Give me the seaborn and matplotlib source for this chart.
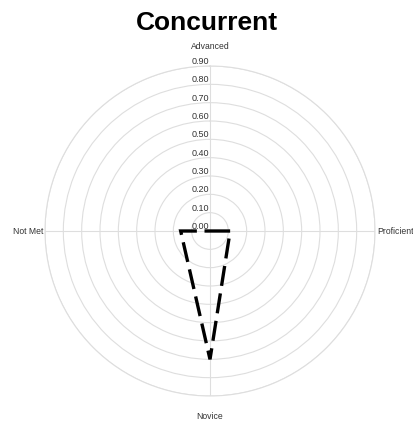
import numpy as np
import pandas as pd
import matplotlib
matplotlib.use("Agg")
import matplotlib.pyplot as plt
import seaborn as sns

categories = ["Advanced", "Proficient", "Novice", "Not Met"]
values = [0.00, 0.11, 0.70, 0.16]
tick_values = [0.0, 0.1, 0.2, 0.3, 0.4, 0.5, 0.6, 0.7, 0.8, 0.9]
tick_labels = ["0.00", "0.10", "0.20", "0.30", "0.40", "0.50", "0.60", "0.70", "0.80", "0.90"]
title = "Concurrent"

sns.set_style("white")
plt.rcParams["font.family"] = ["Liberation Sans", "DejaVu Sans"]
plt.rcParams["lines.scale_dashes"] = False

W, H = 414, 423
fig = plt.figure(figsize=(W / 100, H / 100), dpi=100)
cx, cy, R = 210, 231, 165
ax = fig.add_axes([(cx - R) / W, (H - cy - R) / H, 2 * R / W, 2 * R / H], projection="polar")
ax.set_theta_zero_location("N")
ax.set_theta_direction(-1)

angles = np.linspace(0, 2 * np.pi, len(categories), endpoint=False)
df = pd.DataFrame({
    "theta": list(angles) + [angles[0]],
    "r": values + [values[0]],
})

sns.lineplot(data=df, x="theta", y="r", sort=False, ax=ax, color="black",
             linewidth=2.4, estimator=None)
line = ax.lines[-1]
line.set_dashes([14.5, 5.5])
line.set_dash_joinstyle("miter")
line.set_dash_capstyle("butt")

ax.set_ylim(0, tick_values[-1])
ax.set_yticks(tick_values[1:])
ax.set_yticklabels([])
ax.set_xticks(angles)
ax.set_xticklabels([])
ax.set_xlabel("")
ax.set_ylabel("")
ax.grid(True, color="#dedede", linewidth=0.8)
ax.spines["polar"].set_color("#dedede")
ax.spines["polar"].set_linewidth(0.8)
ax.tick_params(length=0, pad=0)

for v, lab in zip(tick_values, tick_labels):
    ax.annotate(lab, xy=(0, v), xytext=(-0.8, 1.4), textcoords="offset points",
                ha="right", va="baseline", fontsize=6.5, color="#333333")

offsets = {
    "Advanced": ((0, 14.4), "center", "center"),
    "Proficient": ((1.4, 0), "left", "center"),
    "Novice": ((0, -15.1), "center", "center"),
    "Not Met": ((-1.5, 0), "right", "center"),
}
for a, cat in zip(angles, categories):
    off, ha, va = offsets[cat]
    ax.annotate(cat, xy=(a, tick_values[-1]), xytext=off, textcoords="offset points",
                ha=ha, va=va, fontsize=6.2, color="#333333")

fig.text(0.5, 1 - 30 / H, title, ha="center", va="baseline", fontsize=19,
         fontweight="bold", color="black")

fig.savefig("out.png", dpi=100)
